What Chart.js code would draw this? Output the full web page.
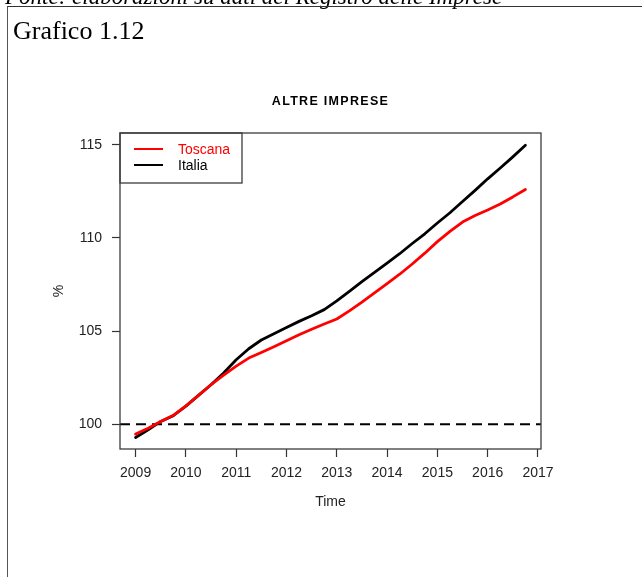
<!DOCTYPE html>
<html>
<head>
<meta charset="utf-8">
<script src="https://cdn.jsdelivr.net/npm/chart.js@4.4.0/dist/chart.umd.min.js"></script>
<style>
  body { margin: 0; background: #fff; width: 642px; height: 577px; overflow: hidden; position: relative; }
  canvas { position: absolute; left: 0; top: 0; }
  #fonte { position: absolute; left: 5px; top: -15px; font: italic 23px "Liberation Serif", "Times New Roman", serif; line-height: 23px; white-space: nowrap; color: #000; }
  #cornice { position: absolute; left: 7px; top: 6px; width: 700px; height: 700px; border-top: 1.5px solid #333; border-left: 1.8px solid #555; }
  #grafico { position: absolute; left: 13px; top: 18px; font: 26px "Liberation Serif", "Times New Roman", serif; line-height: 26px; color: #000; }
</style>
</head>
<body>
<canvas id="chart" width="642" height="577"></canvas>
<div id="fonte">Fonte: elaborazioni su dati del Registro delle Imprese</div>
<div id="cornice"></div>
<div id="grafico">Grafico 1.12</div>
<script>
// serie trimestrali, primo trimestre 2009 = indice di partenza
const inizio = 2009;
const toscana = [
  99.47, 99.78, 100.15, 100.48, 100.98, 101.55, 102.12, 102.63,
  103.12, 103.55, 103.85, 104.16, 104.48, 104.80, 105.10, 105.38,
  105.65, 106.08, 106.55, 107.05, 107.55, 108.05, 108.60, 109.18,
  109.80, 110.35, 110.85, 111.20, 111.50, 111.82, 112.20, 112.60
];
const italia = [
  99.29, 99.70, 100.15, 100.46, 100.97, 101.55, 102.12, 102.75,
  103.46, 104.05, 104.52, 104.86, 105.19, 105.52, 105.82, 106.15,
  106.62, 107.13, 107.65, 108.15, 108.65, 109.15, 109.70, 110.22,
  110.80, 111.35, 111.95, 112.55, 113.17, 113.75, 114.35, 114.97
];
const anni = [2009, 2010, 2011, 2012, 2013, 2014, 2015, 2016, 2017];
const tickY = [100, 105, 110, 115];
const rifermento = 100;
const limitiX = [2008.69, 2017.06];
const limitiY = [98.67, 115.63];

const punti = serie => serie.map((v, i) => ({ x: inizio + i / 4, y: v }));

// riquadro, linea tratteggiata, legenda e testi in stile grafico R
const stileR = {
  id: 'stileR',
  beforeDatasetsDraw(chart) {
    const { ctx, chartArea: a, scales } = chart;
    const y = scales.y.getPixelForValue(rifermento);
    ctx.save();
    ctx.strokeStyle = '#000';
    ctx.lineWidth = 2;
    ctx.setLineDash([10, 6]);
    ctx.beginPath();
    ctx.moveTo(a.left, y);
    ctx.lineTo(a.right, y);
    ctx.stroke();
    ctx.restore();
  },
  afterDraw(chart) {
    const { ctx, chartArea: a } = chart;
    ctx.save();
    ctx.strokeStyle = '#3c3c3c';
    ctx.lineWidth = 1.3;
    ctx.strokeRect(a.left, a.top, a.right - a.left, a.bottom - a.top);

    // legenda in alto a sinistra
    ctx.strokeRect(a.left, a.top, 122, 50);
    chart.data.datasets.forEach((ds, i) => {
      const ly = a.top + 16 + i * 16;
      ctx.strokeStyle = ds.borderColor;
      ctx.lineWidth = 2;
      ctx.beginPath();
      ctx.moveTo(a.left + 14, ly);
      ctx.lineTo(a.left + 43, ly);
      ctx.stroke();
      ctx.fillStyle = ds.labelColor;
      ctx.font = '14px "Liberation Sans", Arial, sans-serif';
      ctx.textBaseline = 'middle';
      ctx.textAlign = 'left';
      ctx.fillText(ds.label, a.left + 58, ly + 1);
    });

    const cx = (a.left + a.right) / 2;
    ctx.fillStyle = '#000';
    ctx.textAlign = 'center';
    ctx.textBaseline = 'middle';
    ctx.font = 'bold 12.5px "Liberation Sans", Arial, sans-serif';
    ctx.letterSpacing = '1.3px';
    ctx.fillText('ALTRE IMPRESE', cx, 102);
    ctx.letterSpacing = '0px';
    ctx.font = '14px "Liberation Sans", Arial, sans-serif';
    ctx.fillStyle = '#222';
    ctx.fillText('Time', cx, 502);
    ctx.translate(59, (a.top + a.bottom) / 2);
    ctx.rotate(-Math.PI / 2);
    ctx.fillText('%', 0, 0);
    ctx.restore();
  }
};

new Chart(document.getElementById('chart'), {
  type: 'line',
  data: {
    datasets: [
      {
        label: 'Toscana',
        data: punti(toscana),
        borderColor: '#ff0000',
        labelColor: '#ff0000',
        borderWidth: 2.8
      },
      {
        label: 'Italia',
        data: punti(italia),
        borderColor: '#000000',
        labelColor: '#000000',
        borderWidth: 2.8
      }
    ]
  },
  options: {
    responsive: false,
    animation: false,
    layout: { padding: { top: 133, right: 101, left: 0, bottom: 0 } },
    elements: {
      point: { radius: 0 },
      line: { tension: 0, borderCapStyle: 'round', borderJoinStyle: 'round' }
    },
    plugins: {
      legend: { display: false },
      title: { display: false },
      tooltip: { enabled: false }
    },
    scales: {
      x: {
        type: 'linear',
        min: limitiX[0],
        max: limitiX[1],
        afterBuildTicks: s => { s.ticks = anni.map(v => ({ value: v })); },
        afterFit: s => { s.height = 128; },
        border: { display: false },
        grid: { drawOnChartArea: false, tickLength: 8, color: '#333', tickWidth: 1.2 },
        ticks: {
          padding: 8,
          color: '#222',
          font: { family: '"Liberation Sans", Arial, sans-serif', size: 14 },
          maxRotation: 0,
          callback: v => String(v)
        }
      },
      y: {
        min: limitiY[0],
        max: limitiY[1],
        afterBuildTicks: s => { s.ticks = tickY.map(v => ({ value: v })); },
        afterFit: s => { s.width = 120; },
        border: { display: false },
        grid: { drawOnChartArea: false, tickLength: 8, color: '#333', tickWidth: 1.2 },
        ticks: {
          padding: 10,
          color: '#222',
          font: { family: '"Liberation Sans", Arial, sans-serif', size: 14 },
          callback: v => String(v)
        }
      }
    }
  },
  plugins: [stileR]
});
</script>
</body>
</html>
